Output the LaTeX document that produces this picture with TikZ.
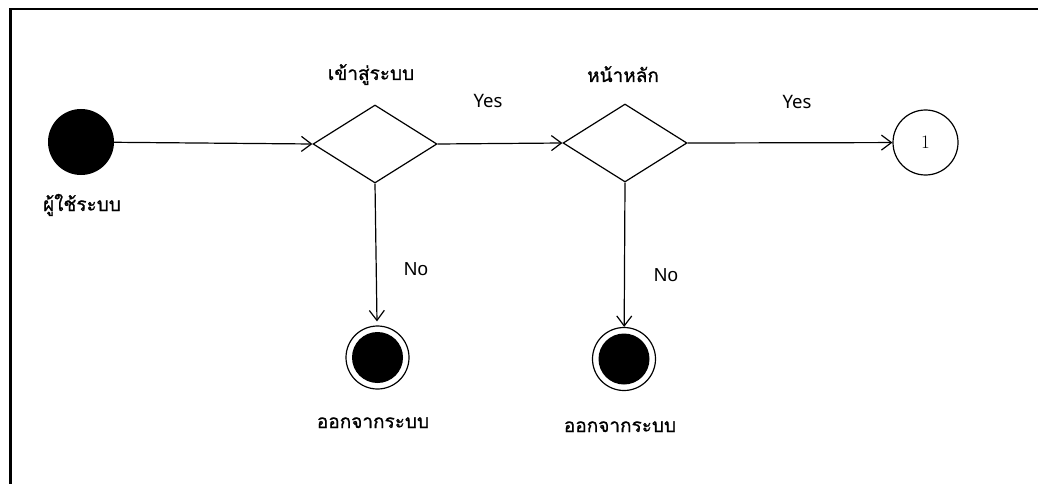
\documentclass[tikz,border=0pt]{standalone}
\usepackage{fontspec}
\newfontfamily\thaifont[Script=Thai,FakeBold=1]{Loma}
\newfontfamily\yesfont{Noto Sans}
\newfontfamily\nofont{Liberation Sans}
\usetikzlibrary{arrows.meta,shapes.geometric}
\tikzset{
  conn/.style={line width=1.2pt,-{Straight Barb[length=10pt,width=15pt,line width=1.2pt]}},
  startst/.style={circle,fill=black,inner sep=0pt,minimum size=66pt},
  decbox/.style={diamond,draw,line width=1.2pt,inner sep=0pt,minimum width=124pt,minimum height=78pt},
  endst/.style={circle,draw,line width=1.2pt,inner sep=0pt,minimum size=63pt,
    path picture={\fill (path picture bounding box.center) circle (25.5pt);}},
  connst/.style={circle,draw,line width=1.2pt,inner sep=0pt,minimum size=65pt,font=\fontsize{19}{19}\selectfont},
  thlab/.style={anchor=base,inner sep=0pt,font=\thaifont\fontsize{19}{19}\selectfont},
  yeslab/.style={anchor=base,inner sep=0pt,font=\yesfont\fontsize{18.5}{18.5}\selectfont},
  nolab/.style={anchor=base,inner sep=0pt,font=\nofont\fontsize{18.8}{18.8}\selectfont},
}
\begin{document}
\begin{tikzpicture}[x=1pt,y=-1pt]
\useasboundingbox (0,0) rectangle (1038,484);
\draw[line width=2.6pt] (10.5,484) -- (10.5,9) -- (1038,9);

\node[startst] (s) at (81,142) {};
\node[decbox] (d1) at (375,144) {};
\node[decbox] (d2) at (625,143) {};
\node[connst] (c1) at (925.5,142.5) {1};
\node[endst] (f1) at (377.5,357.5) {};
\node[endst] (f2) at (624,359) {};

\node[thlab] (ls) at (82,211) {ผู้ใช้ระบบ};
\node[thlab] (l1) at (371,80) {เข้าสู่ระบบ};
\node[thlab] (l2) at (623,82) {หน้าหลัก};
\node[thlab] (lf1) at (373,428) {ออกจากระบบ};
\node[thlab] (lf2) at (620,432) {ออกจากระบบ};

\node[yeslab] (y1) at (488,107.5) {Yes};
\node[yeslab] (y2) at (797,109) {Yes};
\node[nolab] (n1) at (416,275.5) {No};
\node[nolab] (n2) at (666,281) {No};

\draw[conn] (s) -- (d1.west);
\draw[conn] (d1.east) -- (d2.west);
\draw[conn] (d2.east) -- (c1);
\draw[conn,shorten >=4pt] (d1.south) -- (f1);
\draw[conn] (d2.south) -- (f2);
\end{tikzpicture}
\end{document}
